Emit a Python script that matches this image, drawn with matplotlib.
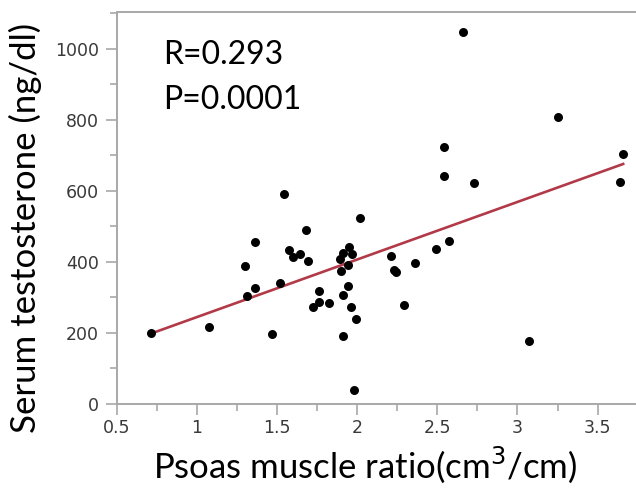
import numpy as np
import matplotlib
matplotlib.use('Agg')
import matplotlib.pyplot as plt
from matplotlib.ticker import MultipleLocator

# psoas muscle ratio (cm3/cm) vs serum testosterone (ng/dl)
psoas = [0.71, 1.075, 1.30, 1.31, 1.36, 1.36, 1.47, 1.52, 1.54, 1.575,
         1.60, 1.64, 1.68, 1.69, 1.76, 1.76, 1.725, 1.825, 1.89, 1.91,
         1.95, 1.97, 1.94, 1.90, 1.94, 1.91, 1.96, 1.99, 1.91, 1.98,
         2.02, 2.21, 2.23, 2.24, 2.36, 2.49, 2.575, 2.29, 2.54, 2.54,
         2.73, 2.66, 3.25, 3.075, 3.66, 3.64]
testo = [200, 217, 389, 304, 456, 327, 197, 341, 592, 434,
         414, 423, 490, 403, 318, 287, 273, 285, 408, 425,
         442, 423, 392, 375, 332, 307, 273, 239, 192, 39,
         524, 417, 377, 372, 397, 437, 459, 279, 724, 642,
         622, 1048, 808, 177, 704, 625]

# regression line ends
fit_x = [0.71, 3.66]
fit_y = [198, 676]

R = 0.293
P = '0.0001'

fig = plt.figure(figsize=(6.36, 4.9), dpi=100)
ax = fig.add_axes([117/636, 1 - 404/490, 1 - 117/636, 392/490])

ax.plot(fit_x, fit_y, color='#b23a48', lw=1.9, zorder=2)
ax.scatter(psoas, testo, s=42, color='black', zorder=3, linewidths=0)

ax.set_xlim(0.5, 3.74)
ax.set_ylim(0, 1104)
ax.xaxis.set_minor_locator(MultipleLocator(0.25))
ax.yaxis.set_major_locator(MultipleLocator(200))
ax.yaxis.set_minor_locator(MultipleLocator(100))
ax.set_xticks([0.5, 1, 1.5, 2, 2.5, 3, 3.5])
ax.set_xticklabels(['0.5', '1', '1.5', '2', '2.5', '3', '3.5'])

for s in ['left', 'bottom', 'top']:
    ax.spines[s].set_color('#a8a8a8')
    ax.spines[s].set_linewidth(1.4)
ax.spines['right'].set_visible(False)
ax.tick_params(which='major', length=8, width=1.2, color='#a8a8a8',
               labelsize=12.5, labelcolor='#3a3a3a')
ax.tick_params(axis='y', which='major', pad=5)
ax.tick_params(axis='x', which='major', pad=3)
ax.tick_params(which='minor', length=5, width=1.2, color='#a8a8a8')

fig.text(163/636, 1 - 55/490, 'R=' + str(R), fontsize=23, family='Lato',
         va='center', ha='left')
fig.text(163/636, 1 - 100/490, 'P=' + P, fontsize=23, family='Lato',
         va='center', ha='left')

fig.text(25/636, 1 - 228/490, 'Serum testosterone (ng/dl)', rotation=90,
         fontsize=25, family='Lato', va='center', ha='center')
fig.text(365/636, 1 - 465/490, 'Psoas muscle ratio(cm$^3$/cm)',
         fontsize=25, family='Lato', va='center', ha='center')

fig.savefig('out.png', dpi=100)
